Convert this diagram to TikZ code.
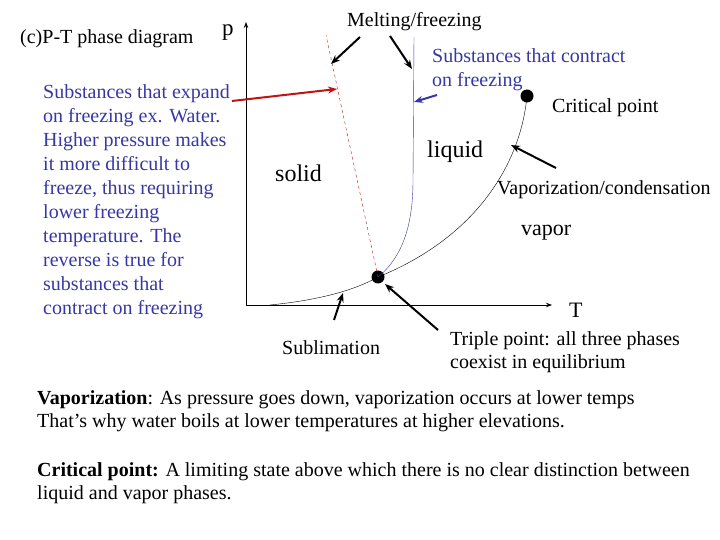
\documentclass[tikz,border=0pt]{standalone}
\usepackage{fontspec}
\setmainfont{Liberation Serif}
\usetikzlibrary{arrows.meta}
\definecolor{tblue}{RGB}{55,55,165}
\definecolor{tred}{RGB}{190,20,20}
\begin{document}
\begin{tikzpicture}[x=1pt,y=-1pt,
  lab/.style={anchor=west,inner sep=0pt,font=\fontsize{20}{22}\selectfont},
  para/.style={anchor=north west,inner sep=0pt,font=\fontsize{20}{24}\selectfont,align=left},
  arr/.style={-{Stealth[length=9pt,width=7pt]},line width=2pt},
  dot/.style={circle,fill=black,inner sep=0pt,minimum size=13pt}]
\useasboundingbox (0,0) rectangle (720,540);
% axes
\coordinate (O) at (246,305);
\coordinate (Ytop) at (246,22);
\coordinate (Xend) at (552,305);
\draw[-{Stealth[length=6pt]},line width=1pt] (O) -- (Ytop);
\draw[-{Stealth[length=6pt]},line width=1pt] (O) -- (Xend);
\node[dot] (tp) at (378,277) {};
\node[dot] (cp) at (527,96) {};
\coordinate (subl) at (270,305);
\coordinate (redtop) at (326,35);
\coordinate (bluetop) at (414,37);
\draw[thin] (subl) .. controls (320,300) and (355,290) .. (tp.center);
\draw[thin] (tp.center) .. controls (470,240) and (520,170) .. (cp.center);
\draw[tred,dashed,thin] (tp.center) -- (redtop);
\draw[tblue,thin] (tp.center) .. controls (405,255) and (413,220) .. (413,180) -- (bluetop);
% labels
\node[lab] (title) at (20,39) {(c)P-T phase diagram};
\node[lab,font=\fontsize{23}{24}\selectfont] (p) at (222,33) {p};
\node[lab] (melt) at (347,22) {Melting/freezing};
\node[para,text=tblue] (contract) at (432,48) {Substances that contract\\on freezing};
\node[lab] (crit) at (552,108) {Critical point};
\node[lab,font=\fontsize{24}{26}\selectfont] (liq) at (427,152) {liquid};
\node[lab,font=\fontsize{24}{26}\selectfont] (sol) at (275,173) {solid};
\node[lab] (vapc) at (497,190) {Vaporization/condensation};
\node[lab,font=\fontsize{22}{24}\selectfont] (vap) at (521,233) {vapor};
\node[lab,font=\fontsize{22}{24}\selectfont] (T) at (569,310) {T};
\node[lab] (sub) at (282,348) {Sublimation};
\node[para] (triple) at (450,331) {Triple point: all three phases\\[-1pt]coexist in equilibrium};
\node[para,text=tblue] (expand) at (43,84) {Substances that expand\\on freezing ex. Water.\\Higher pressure makes\\it more difficult to\\freeze, thus requiring\\lower freezing\\temperature.  The\\reverse is true for\\substances that\\contract on freezing};
\node[para] (vaptext) at (37,390) {\textbf{Vaporization}: As pressure goes down, vaporization occurs at lower temps\\[-1pt]That’s why water boils at lower temperatures at higher elevations.};
\node[para] (crittext) at (37,462) {\textbf{Critical point:} A limiting state above which there is no clear distinction between\\[-1pt]liquid and vapor phases.};
% arrows
\coordinate (m1) at (360,37); \coordinate (m1e) at (331,64);
\coordinate (m2) at (390,36); \coordinate (m2e) at (412,69);
\draw[arr] (m1) -- (m1e);
\draw[arr] (m2) -- (m2e);
\coordinate (b1) at (437,95); \coordinate (b1e) at (414,102);
\draw[arr,tblue] (b1) -- (b1e);
\coordinate (r1) at (232,101); \coordinate (r1e) at (337,89);
\draw[arr,tred] (r1) -- (r1e);
\coordinate (v1) at (556,168); \coordinate (v1e) at (511,145);
\draw[arr] (v1) -- (v1e);
\coordinate (s1) at (334,320); \coordinate (s1e) at (343,293);
\draw[arr] (s1) -- (s1e);
\coordinate (t1) at (438,330); \coordinate (t1e) at (385,284);
\draw[arr] (t1) -- (t1e);
\end{tikzpicture}
\end{document}
